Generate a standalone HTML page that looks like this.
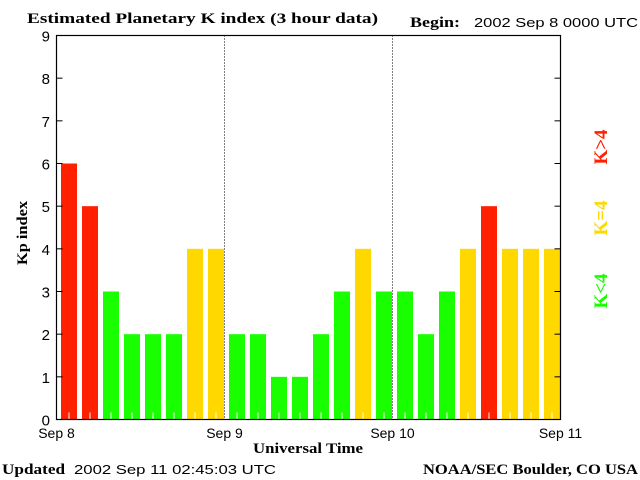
<!DOCTYPE html>
<html><head><meta charset="utf-8"><style>
body{margin:0;background:#fff;}
svg{display:block;}
.serif{font-family:"Liberation Serif",serif;font-weight:bold;}
.sans{font-family:"Liberation Sans",sans-serif;}
</style></head><body>
<svg id="chart" width="640" height="480" viewBox="0 0 640 480">
<text x="27" y="23" class="serif" font-size="15" textLength="351" lengthAdjust="spacingAndGlyphs">Estimated Planetary K index (3 hour data)</text>
<text x="410" y="27" class="serif" font-size="15" textLength="50" lengthAdjust="spacingAndGlyphs">Begin:</text>
<text x="474" y="27" class="sans" font-size="13" textLength="164" lengthAdjust="spacingAndGlyphs">2002 Sep 8 0000 UTC</text>
<g id="bars"></g>
<g id="axes"></g>
<text transform="translate(27,233) rotate(-90)" text-anchor="middle" class="serif" font-size="15" textLength="64" lengthAdjust="spacingAndGlyphs">Kp index</text>
<text x="253" y="453" class="serif" font-size="15" textLength="110" lengthAdjust="spacingAndGlyphs">Universal Time</text>
<text x="2" y="474" class="serif" font-size="15" textLength="63" lengthAdjust="spacingAndGlyphs">Updated</text>
<text x="74" y="474" class="sans" font-size="13" textLength="202" lengthAdjust="spacingAndGlyphs">2002 Sep 11 02:45:03 UTC</text>
<text x="423" y="474" class="serif" font-size="15" textLength="215" lengthAdjust="spacingAndGlyphs">NOAA/SEC Boulder, CO USA</text>
<text transform="translate(607,147) rotate(-90)" text-anchor="middle" class="serif" font-size="19" fill="#ff2000">K&gt;4</text>
<text transform="translate(607,218) rotate(-90)" text-anchor="middle" class="serif" font-size="19" fill="#ffd800">K=4</text>
<text transform="translate(607,291) rotate(-90)" text-anchor="middle" class="serif" font-size="19" fill="#1aff00">K&lt;4</text>
</svg>
<script>
const kpValues = [6,5,3,2,2,2,4,4, 2,2,1,1,2,3,4,3, 3,2,3,4,5,4,4,4];
const dayLabels = ["Sep 8","Sep 9","Sep 10","Sep 11"];
const yTicks = [0,1,2,3,4,5,6,7,8,9];

const NS = "http://www.w3.org/2000/svg";
const L = 56.5, R = 560.5, T = 35.5, B = 419.5;
const slot = (R - L) / kpValues.length;
const xS = i => L + i * slot;
const yS = v => B - v * (B - T) / 9;
function mk(tag, attrs, parent) {
  const e = document.createElementNS(NS, tag);
  for (const k in attrs) e.setAttribute(k, attrs[k]);
  parent.appendChild(e);
  return e;
}
const bars = document.getElementById('bars');
const axes = document.getElementById('axes');
kpValues.forEach((v, i) => {
  const col = v < 4 ? '#1aff00' : (v === 4 ? '#ffd800' : '#ff2000');
  const r = mk('rect', {x: xS(i) + 4.5, y: yS(v), width: 16, height: B - yS(v), fill: col}, bars);
  
  
  const t = mk('line', {x1: xS(i) + 12.5, x2: xS(i) + 12.5, y1: B - 7, y2: B, stroke: '#fff', 'stroke-width': 1}, bars);
  
  
});
for (let d = 1; d < dayLabels.length - 1; d++) {
  const x = L + d * 8 * slot;
  const l = mk('line', {x1: x, x2: x, y1: T, y2: B, stroke: '#000', 'stroke-dasharray': '1,2'}, axes);
  
  
}
const frame = mk('rect', {x: L, y: T, width: R - L, height: B - T, fill: 'none', stroke: '#000', 'stroke-width': 1.2}, axes);


yTicks.forEach(v => {
  const y = yS(v);
  mk('line', {x1: L, x2: L + 6, y1: y, y2: y, stroke: '#000'}, axes);
  mk('line', {x1: R - 6, x2: R, y1: y, y2: y, stroke: '#000'}, axes);
  const t = mk('text', {x: 50, y: y + 6, 'text-anchor': 'end', 'font-family': 'Liberation Sans, sans-serif', 'font-size': 15}, axes);
  t.textContent = v;
  
  
});
dayLabels.forEach((d, i) => {
  const t = mk('text', {x: L + i * 8 * slot, y: 438, 'text-anchor': 'middle', 'font-family': 'Liberation Sans, sans-serif', 'font-size': 14}, axes);
  t.textContent = d;
  
  
});
</script>
</body></html>
